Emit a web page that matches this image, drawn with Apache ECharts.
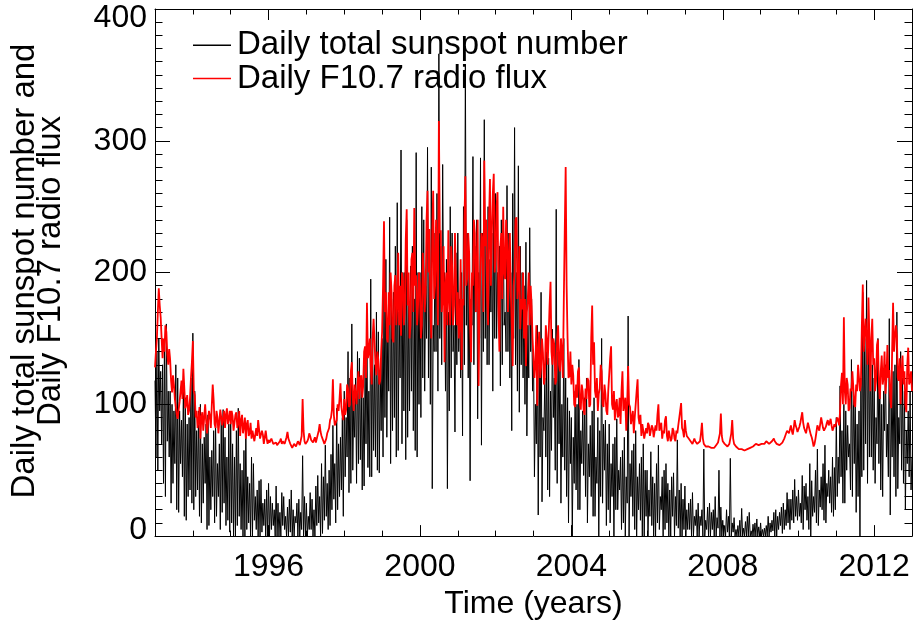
<!DOCTYPE html>
<html><head><meta charset="utf-8">
<script src="https://cdn.jsdelivr.net/npm/echarts@6/dist/echarts.min.js"></script>
<style>html,body{margin:0;padding:0;background:#fff}#c{width:913px;height:625px}</style>
</head><body><div id="c"></div>
<script>
// Sampling grid (years): one value every 0.025 yr from 1993.0 to 2013.0
const startYear = 1993;
const stepYear = 0.025;

// Daily total sunspot number, 40 values per year
const sunspot = [
 118,60,140,50, 150,95,125,70, 130,40,150,30, 161,72,110,60, 110,25,100,40, 95,55,130,20, 120,18,95,55, 88,45,115,15, 105,12,85,30, 90,35,120,25,
 154,20,110,30, 80,35,95,15, 100,10,70,25, 75,40,85,5, 92,8,60,20, 65,30,80,10, 88,15,55,30, 70,5,90,18, 96,25,75,8, 60,12,85,3,
 90,10,70,0, 60,0,80,8, 97,15,55,5, 50,0,65,0, 85,5,45,10, 40,0,60,0, 55,12,30,5, 35,0,42,0, 43,3,25,8, 28,0,35,0,
 40,0,30,5, 25,8,20,0, 38,0,25,0, 18,0,33,8, 30,5,15,0, 22,0,28,3, 35,0,20,0, 15,10,25,0, 28,0,18,5, 61,0,30,0,
 25,0,15,5, 33,5,28,0, 20,0,38,8, 46,10,30,0, 55,2,45,12, 69,15,40,5, 50,8,62,20, 84,28,55,10, 97,20,70,30, 75,35,90,15,
 110,45,90,60, 140,33,120,40, 161,50,100,75, 120,40,140,55, 135,58,115,35, 105,38,130,70, 150,52,110,45, 195,45,150,65, 130,60,170,50, 155,48,125,80,
 150,60,190,90, 210,75,160,110, 242,55,180,80, 185,90,220,60, 253,65,170,120, 293,70,200,95, 200,58,240,75, 175,95,205,110, 220,80,180,65, 291,60,200,100,
 200,90,250,120, 240,110,190,150, 295,120,220,100, 280,36,160,140, 230,140,260,110, 366,150,220,130, 282,180,200,110, 210,36,170,95, 250,120,230,140, 160,79,215,130,
 230,140,180,120, 200,76,250,130, 358,160,230,120, 210,42,180,160, 288,130,220,170, 240,89,200,150, 287,69,230,140, 316,150,240,130, 250,130,210,170, 230,110,260,150,
 260,150,200,170, 220,114,240,130, 240,160,170,140, 266,140,230,120, 200,80,260,150, 310,130,200,110, 281,94,220,130, 200,120,190,100, 223,76,160,120, 234,140,180,110,
 140,45,100,70, 160,16,130,60, 185,26,90,80, 120,60,140,35, 135,30,110,65, 157,90,120,50, 248,40,140,70, 130,25,100,60, 150,50,120,30, 105,10,95,55,
 90,0,75,40, 110,35,100,20, 134,20,80,55, 95,46,105,30, 120,10,70,45, 84,30,95,15, 105,15,60,40, 90,0,80,30, 150,25,85,50, 88,8,70,20,
 85,10,55,30, 70,0,75,20, 89,20,50,35, 60,5,65,10, 75,0,45,25, 167,0,55,30, 65,15,70,5, 80,0,45,20, 55,12,60,0, 70,0,50,15,
 50,0,35,15, 64,8,45,0, 40,0,55,10, 69,5,30,20, 45,0,50,5, 55,10,40,0, 35,0,45,15, 48,0,30,8, 73,6,35,0, 40,0,28,5,
 38,0,20,5, 25,5,28,0, 33,0,15,8, 20,0,25,0, 15,8,20,0, 66,0,12,5, 22,0,25,0, 18,5,20,0, 30,0,14,6, 50,0,22,0,
 12,0,8,0, 20,3,15,0, 59,0,10,3, 14,0,5,0, 8,0,12,0, 21,0,6,0, 11,0,15,0, 18,0,4,0, 9,0,10,0, 13,0,7,0,
 10,0,5,0, 6,0,8,0, 15,0,10,3, 12,4,18,0, 20,0,15,5, 18,8,22,2, 25,5,20,8, 33,10,28,5, 28,12,35,10, 43,15,30,12,
 35,15,25,10, 46,5,38,20, 40,12,30,5, 55,0,42,15, 30,18,50,10, 66,8,35,22, 45,20,55,12, 69,10,40,30, 50,25,45,18, 60,15,52,20,
 90,30,60,40, 114,45,80,25, 100,25,95,50, 84,60,70,35, 134,30,110,55, 105,18,85,30, 95,0,120,45, 185,50,150,70, 194,40,160,60, 140,60,130,50,
 120,40,90,70, 150,55,120,35, 100,30,110,80, 130,60,85,45, 165,16,100,60, 125,45,130,30, 170,36,90,70, 140,50,120,40, 110,20,80,55, 95,45,110,35,
 60
];

// Daily F10.7 radio flux, 40 values per year
const f107 = [
 128,140,150,170,188,175,166,150,135,150,140,160,155,138,130,142,134,118,109,122,115,104,98,92,89,96,102,110,118,104,127,112,97,100,107,92,95,105,120,132,
 148,110,107,90,95,82,87,98,74,90,94,80,80,100,88,78,79,95,91,82,99,115,103,85,82,95,90,78,78,96,97,84,84,95,82,92,97,85,89,95,
 85,95,91,80,80,92,94,82,86,95,76,88,92,78,83,90,74,85,88,76,78,86,74,80,81,72,72,82,76,88,87,74,73,80,77,70,71,80,74,70,
 73,71,70,74,72,70,69,71,71,69,68,70,72,74,70,72,73,70,71,75,79,74,72,70,69,67,68,70,70,68,69,72,71,69,70,76,104,80,72,70,
 70,72,74,78,76,73,72,71,73,75,71,74,75,80,85,79,76,74,72,70,71,74,78,80,82,88,90,96,119,92,84,86,88,100,95,104,116,98,92,88,
 104,92,96,115,112,98,100,125,132,105,95,115,108,100,115,125,104,120,122,105,114,140,144,120,177,135,139,150,128,115,150,165,165,130,122,140,134,115,118,140,
 155,190,239,170,185,150,147,185,160,200,185,150,147,190,198,160,175,215,160,190,152,200,195,160,170,225,248,175,200,150,160,210,215,170,249,190,198,160,175,200,
 190,150,160,215,215,170,185,240,262,200,233,170,150,230,262,180,190,240,210,160,315,230,232,170,180,220,132,190,200,160,232,180,160,220,205,160,175,230,195,160,
 185,150,160,210,126,180,175,240,273,190,196,230,215,160,132,200,190,240,230,170,205,240,114,180,180,230,225,170,285,220,240,180,160,240,271,190,230,260,275,200,
 210,250,261,170,140,220,230,180,250,200,195,240,225,170,215,230,185,160,129,190,200,240,242,180,190,220,157,180,172,200,150,180,129,170,180,200,160,190,175,150,
 150,120,130,160,99,140,155,120,128,150,139,115,120,160,150,130,152,175,193,140,130,150,145,115,118,150,160,130,125,150,140,120,177,230,280,190,150,120,122,140,
 115,130,122,100,98,115,105,125,128,100,96,115,110,95,92,112,104,120,118,98,100,150,175,130,147,110,105,120,95,108,112,130,125,100,98,115,108,95,92,110,
 110,135,144,100,96,110,88,100,104,90,92,105,85,110,125,95,95,105,80,100,129,100,98,85,84,95,78,90,90,110,119,90,85,92,76,85,80,74,74,82,
 78,86,84,76,76,84,82,75,75,84,80,92,100,80,79,86,74,80,78,88,91,76,72,80,76,72,74,82,80,74,72,80,78,84,84,95,101,82,80,75,
 88,80,76,75,74,73,72,71,70,72,74,72,71,70,69,70,72,78,86,74,70,69,68,69,67,68,69,68,67,66,66,67,68,69,70,71,72,78,93,76,
 72,71,70,69,69,68,68,70,71,78,88,74,70,69,68,67,67,66,66,66,66,65,65,65,65,66,66,66,67,67,66,67,68,68,69,70,70,69,69,70,
 70,70,71,71,70,71,72,71,71,70,70,71,72,73,74,72,71,70,70,69,69,70,70,71,72,74,76,78,80,79,78,81,84,80,77,82,88,84,82,79,
 80,83,86,90,94,86,82,80,78,82,86,83,80,77,75,72,68,70,74,79,84,82,80,85,90,86,82,80,79,83,86,88,84,86,89,84,80,82,85,83,
 82,90,88,84,95,115,124,100,166,110,100,120,115,95,97,112,110,125,124,100,98,115,110,130,130,110,115,160,191,140,140,165,150,130,181,150,110,150,165,130,
 135,110,118,145,149,115,104,125,137,115,120,140,108,120,145,120,126,105,97,140,177,140,140,160,152,120,118,135,100,125,137,115,125,100,94,130,143,115,118,125,
 110
];

const seriesNames = ['Daily total sunspot number', 'Daily F10.7 radio flux'];
const xMajorTicks = [1996, 2000, 2004, 2008, 2012];
const xTitle = 'Time (years)';
const yTitleLines = ['Daily total sunspot number and', 'Daily F10.7 radio flux'];

const FONT = '"Liberation Sans", Arial, Helvetica, sans-serif';
const toPts = arr => arr.map((v, i) => [+(startYear + i * stepYear).toFixed(3), v]);
const ax = {color: '#000', width: 1};
const xCommon = {type: 'value', min: 1993, max: 2013, splitLine: {show: false}, gridIndex: 0};
const yCommon = {type: 'value', min: 0, max: 400, interval: 100, splitLine: {show: false}, gridIndex: 0};

const chart = echarts.init(document.getElementById('c'), null, {renderer: 'canvas'});
chart.setOption({
  animation: false,
  backgroundColor: '#fff',
  textStyle: {fontFamily: FONT},
  grid: {left: 155, right: 1, top: 9, bottom: 87, containLabel: false},
  legend: {
    show: true, orient: 'vertical', left: 193, top: 28.7, padding: 0, itemGap: 0.3,
    itemWidth: 38, itemHeight: 1.5, icon: 'rect', selectedMode: false,
    data: seriesNames,
    textStyle: {fontSize: 33, color: '#000', fontFamily: FONT, lineHeight: 18, padding: [0, 0, 8, 1]}
  },
  xAxis: [
    Object.assign({}, xCommon, {
      position: 'bottom',
      axisLine: {show: true, onZero: false, lineStyle: ax},
      axisTick: {show: true, inside: true, length: 11, customValues: xMajorTicks, lineStyle: ax},
      axisLabel: {show: true, customValues: xMajorTicks, formatter: v => String(v), fontSize: 32, color: '#000', margin: 15, fontFamily: FONT},
      name: xTitle, nameLocation: 'middle', nameGap: 47,
      nameTextStyle: {fontSize: 32, color: '#000', fontFamily: FONT}
    }),
    Object.assign({}, xCommon, {
      position: 'bottom', interval: 1,
      axisLine: {show: false, onZero: false},
      axisTick: {show: true, inside: true, length: 5.5, lineStyle: ax},
      axisLabel: {show: false}
    }),
    Object.assign({}, xCommon, {
      position: 'top',
      axisLine: {show: true, onZero: false, lineStyle: ax},
      axisTick: {show: true, inside: true, length: 11, customValues: xMajorTicks, lineStyle: ax},
      axisLabel: {show: false}
    }),
    Object.assign({}, xCommon, {
      position: 'top', interval: 1,
      axisLine: {show: false, onZero: false},
      axisTick: {show: true, inside: true, length: 5.5, lineStyle: ax},
      axisLabel: {show: false}
    })
  ],
  yAxis: [
    Object.assign({}, yCommon, {
      position: 'left',
      axisLine: {show: true, onZero: false, lineStyle: ax},
      axisTick: {show: true, inside: true, length: 15, lineStyle: ax},
      minorTick: {show: true, splitNumber: 10, length: 7.5, lineStyle: ax},
      axisLabel: {
        show: true, fontSize: 32, color: '#000', margin: 8, fontFamily: FONT,
        formatter: v => v === 400 ? '{t|400}' : (v === 0 ? '{b|0}' : '{n|' + v + '}'),
        rich: {
          t: {fontSize: 32, color: '#000', fontFamily: FONT, padding: [18, 0, 0, 0]},
          b: {fontSize: 32, color: '#000', fontFamily: FONT, padding: [0, 0, 12, 0]},
          n: {fontSize: 32, color: '#000', fontFamily: FONT}
        }
      }
    }),
    Object.assign({}, yCommon, {
      position: 'right',
      axisLine: {show: true, onZero: false, lineStyle: ax},
      axisTick: {show: true, inside: true, length: 15, lineStyle: ax},
      minorTick: {show: true, splitNumber: 10, length: 7.5, lineStyle: ax},
      axisLabel: {show: false}
    })
  ],
  graphic: [
    {type: 'text', x: 25, y: 271, rotation: Math.PI / 2, silent: true,
     style: {text: yTitleLines[0], fontSize: 33, fontFamily: FONT, fill: '#000', align: 'center', verticalAlign: 'middle'}},
    {type: 'text', x: 51, y: 271, rotation: Math.PI / 2, silent: true,
     style: {text: yTitleLines[1], fontSize: 33, fontFamily: FONT, fill: '#000', align: 'center', verticalAlign: 'middle'}}
  ],
  series: [
    {name: seriesNames[0], type: 'line', xAxisIndex: 0, yAxisIndex: 0, data: toPts(sunspot),
     showSymbol: false, symbol: 'none', color: '#000', lineStyle: {width: 1, color: '#000'}, z: 2, silent: true},
    {name: seriesNames[1], type: 'line', xAxisIndex: 0, yAxisIndex: 0, data: toPts(f107),
     showSymbol: false, symbol: 'none', color: '#ff0000', lineStyle: {width: 1.8, color: '#ff0000'}, z: 3, silent: true}
  ]
});
</script>
</body></html>
